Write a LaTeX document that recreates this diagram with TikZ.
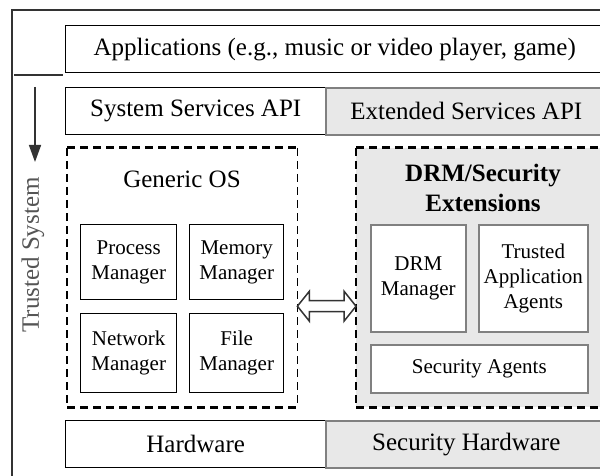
\documentclass[tikz,border=0pt]{standalone}
\usepackage{fontspec}
\setmainfont{Liberation Serif}
\usetikzlibrary{calc,arrows.meta}
\definecolor{shade}{HTML}{E8E8E8}
\definecolor{graybd}{HTML}{808080}
\definecolor{framec}{HTML}{333333}
\definecolor{labelc}{HTML}{555555}
\begin{document}
\begin{tikzpicture}[x=1pt,y=-1pt,
  bigtext/.style={font=\fontsize{25}{30}\selectfont},
  smalltext/.style={font=\fontsize{21}{25}\selectfont, align=center},
  plainbox/.style={draw=black, line width=1.4pt, fill=white, inner sep=0pt, anchor=north west, bigtext},
  graybox/.style={draw=graybd, line width=1.6pt, fill=shade, inner sep=0pt, anchor=north west, bigtext},
  innerbox/.style={draw=black, line width=1.4pt, fill=white, inner sep=0pt, anchor=north west, smalltext},
  innergray/.style={draw=graybd, line width=1.6pt, fill=white, inner sep=0pt, anchor=north west, smalltext},
  dashbox/.style={inner sep=0pt, anchor=north west},
  dashh/.style={draw=black, line width=3pt, dash pattern=on 8pt off 5pt},
  dashv/.style={draw=black, line width=1.5pt, dash pattern=on 8pt off 5pt},
  framel/.style={draw=framec, line width=1.5pt},
  dblarrow/.style={draw=framec, line width=1.5pt, fill=white, line join=miter}
]
\clip (0,0) rectangle (600,476);
\fill[white] (0,0) rectangle (600,476);

% outer frame
\draw[framel] (12,490) -- (12,10) -- (620,10);
\coordinate (hl) at (14,75);
\coordinate (hr) at (63,75);
\draw[framel] (hl) -- (hr);

% layers
\node[plainbox, minimum width=538, minimum height=47] (apps) at (65,25) {Applications (e.g., music or video player, game)};
\node[plainbox, minimum width=260, minimum height=47] (sys) at (65,87) {System Services API};
\node[graybox, minimum width=281, minimum height=47] (ext) at (325,87) {Extended Services API};

\node[dashbox, fill=white, minimum width=230, minimum height=259] (gos) at (67,148) {};
\node[dashbox, fill=shade, minimum width=254, minimum height=259] (drm) at (356,148) {};
\draw[dashh] (gos.north west) -- (gos.north east);
\draw[dashh] (gos.south west) -- (gos.south east);
\draw[dashv] (gos.north west) -- (gos.south west);
\draw[dashv] (gos.north east) -- (gos.south east);
\draw[dashh] (drm.north west) -- (drm.north east);
\draw[dashh] (drm.south west) -- (drm.south east);
\draw[dashv] (drm.north west) -- (drm.south west);

\node[bigtext, inner sep=0pt] (gostitle) at (182,179) {Generic OS};
\node[bigtext, inner sep=0pt, align=center, font=\fontsize{25}{30}\selectfont\bfseries] (drmtitle) at (483,188) {DRM/Security\\Extensions};

\node[innerbox, minimum width=96, minimum height=75] (pm) at (80,224) {Process\\Manager};
\node[innerbox, minimum width=94, minimum height=75] (mm) at (189,224) {Memory\\Manager};
\node[innerbox, minimum width=96, minimum height=79] (nm) at (80,313) {Network\\Manager};
\node[innerbox, minimum width=94, minimum height=79] (fm) at (189,313) {File\\Manager};

\node[innergray, minimum width=95, minimum height=107] (dm) at (370,224) {DRM\\Manager};
\node[innergray, minimum width=109, minimum height=107] (ta) at (478,224) {Trusted\\Application\\Agents};
\node[innergray, minimum width=217, minimum height=48] (sa) at (370,344) {Security Agents};

\node[plainbox, minimum width=260, minimum height=47] (hw) at (65,420) {Hardware};
\node[graybox, minimum width=281, minimum height=47] (shw) at (325,420) {Security Hardware};

% trusted system arrow and label
\node[bigtext, text=labelc, rotate=90, inner sep=0pt] (ts) at (33,255) {Trusted System};
\coordinate (atop) at (35,87);
\coordinate (atip) at (35,162);
\draw[framel, -{Triangle[length=17pt,width=12pt]}] (atop) -- (atip);

% double arrow between OS and extensions
\coordinate (al) at ($(gos.east)+(0,28.5)$);
\coordinate (ar) at ($(drm.west)+(0,28.5)$);
\draw[dblarrow] (al) -- ++(12,-15) -- ++(0,9.5) -- ($(ar)+(-12,-5.5)$) -- ++(0,-9.5) -- (ar)
  -- ++(-12,15) -- ++(0,-9.5) -- ($(al)+(12,5.5)$) -- ++(0,9.5) -- cycle;
\end{tikzpicture}
\end{document}
